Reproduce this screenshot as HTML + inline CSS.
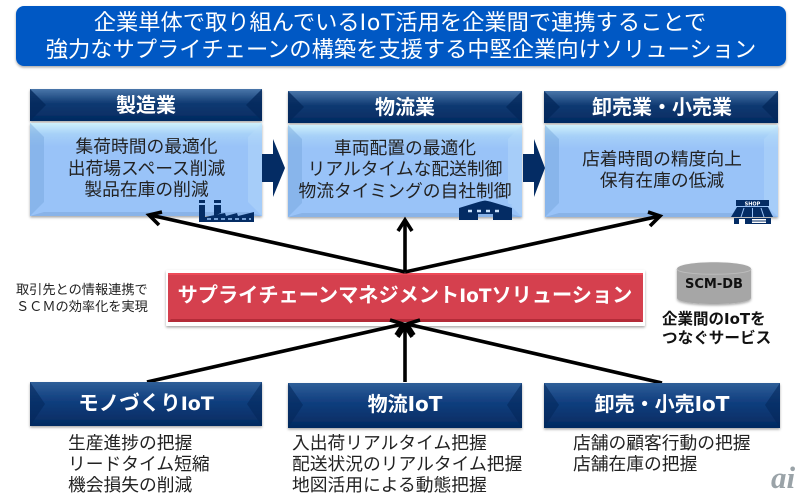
<!DOCTYPE html>
<html lang="ja"><head><meta charset="utf-8"><title>IoT SCM</title>
<style>html,body{margin:0;padding:0;background:#fff}svg{display:block}
text{font-family:"Liberation Sans","Noto Sans CJK JP",sans-serif}
.w{fill:#fff}.b{font-weight:700}.t{fill:#222;font-size:17.75px}
.i{font-family:"DejaVu Sans","Noto Sans CJK JP",sans-serif}</style></head><body>
<svg width="800" height="498" viewBox="0 0 800 498" xmlns="http://www.w3.org/2000/svg">
<defs>
<linearGradient id="h" x1="0" y1="0" x2="0" y2="1"><stop offset="0" stop-color="#4a76aa"/><stop offset=".45" stop-color="#0f3a72"/><stop offset="1" stop-color="#032a60"/></linearGradient>
<linearGradient id="hb" x1="0" y1="0" x2="0" y2="1"><stop offset="0" stop-color="#2f5f98"/><stop offset=".4" stop-color="#124080"/><stop offset="1" stop-color="#032a60"/></linearGradient>
<linearGradient id="bd" x1="0" y1="0" x2="0" y2="1"><stop offset="0" stop-color="#cdf0fb"/><stop offset=".12" stop-color="#a6d0f8"/><stop offset=".25" stop-color="#99c3f8"/><stop offset="1" stop-color="#99c3f8"/></linearGradient>
<filter id="s" x="-5%" y="-10%" width="110%" height="125%"><feDropShadow dx="0" dy="1.5" stdDeviation="1.2" flood-color="#000" flood-opacity=".35"/></filter>
</defs>

<!-- Title -->
<rect x="16" y="6" width="770" height="60" rx="8" fill="#0059c4" filter="url(#s)"/>
<text x="400" y="30" text-anchor="middle" class="w" font-size="22.25">企業単体で取り組んでいる<tspan class="i" font-size="22" letter-spacing=".8">IoT</tspan>活用を企業間で連携することで</text>
<text x="401" y="57" text-anchor="middle" class="w" font-size="22.25">強力なサプライチェーンの構築を支援する中堅企業向けソリューション</text>

<!-- Top headers -->
<g filter="url(#s)">
<rect x="30" y="89" width="232" height="32" fill="url(#h)"/>
<rect x="288" y="91" width="234" height="32" fill="url(#h)"/>
<rect x="544" y="91" width="234" height="32" fill="url(#h)"/>
</g>
<g fill="#03275a" opacity=".75">
<path d="M30 89l16 16-16 16zM262 89l-16 16 16 16z"/>
<path d="M288 91l16 16-16 16zM522 91l-16 16 16 16z"/>
<path d="M544 91l16 16-16 16zM778 91l-16 16 16 16z"/>
</g>
<text x="146" y="112" text-anchor="middle" class="w b" font-size="20">製造業</text>
<text x="405" y="114" text-anchor="middle" class="w b" font-size="20">物流業</text>
<text x="662" y="114" text-anchor="middle" class="w b" font-size="20">卸売業・小売業</text>

<!-- Top bodies -->
<g filter="url(#s)">
<rect x="30" y="123" width="232" height="93" fill="url(#bd)"/>
<rect x="288" y="125" width="234" height="92" fill="url(#bd)"/>
<rect x="545" y="125" width="233" height="92" fill="url(#bd)"/>
</g>
<g fill="#6f9fd8" opacity=".4">
<path d="M30 123l14 14v65l-14 14z"/><path d="M288 125l14 14v64l-14 14z"/><path d="M545 125l14 14v64l-14 14z"/>
</g>
<g fill="#b9dcfb" opacity=".4">
<path d="M262 123l-14 14v65l14 14z"/><path d="M522 125l-14 14v64l14 14z"/><path d="M778 125l-14 14v64l14 14z"/>
</g>
<g fill="#7fa9dd" opacity=".6">
<path d="M30 216l14-4h204l14 4z"/><path d="M288 217l14-4h206l14 4z"/><path d="M545 217l14-4h205l14 4z"/>
</g>
<g text-anchor="middle">
<text x="146.500" y="152.500" class="t">集荷時間の最適化</text>
<text x="146.500" y="174.500" class="t">出荷場スペース削減</text>
<text x="146.500" y="195.500" class="t">製品在庫の削減</text>
<text x="405" y="154" class="t">車両配置の最適化</text>
<text x="405" y="175" class="t">リアルタイムな配送制御</text>
<text x="405" y="197" class="t">物流タイミングの自社制御</text>
<text x="662" y="165" class="t">店着時間の精度向上</text>
<text x="662" y="186.500" class="t">保有在庫の低減</text>
</g>

<!-- Block arrows -->
<path d="M262 154h11v-15l12 29-12 29v-15h-11z" fill="#042c64"/>
<path d="M523 154h11v-15l11 29-11 29v-15h-11z" fill="#042c64"/>

<!-- Factory icon -->
<g fill="#042c64">
<path d="M199 200h6v3h-6zM199 205h6v17h-6zM214 200h7v3h-7zM214 205h7v8l-7 3z"/>
<path d="M205 222v-5l20-4 1 3 11-3 1 3 16-4v10z"/>
</g>
<path d="M207 219h44" stroke="#99c3f8" stroke-width="1.5" stroke-dasharray="4 3"/>
<!-- Warehouse icon -->
<path d="M459 208l26-8 27 8v12h-19v-6h-15v6h-19z" fill="#042c64"/>
<path d="M459 205l26-5 27 5" stroke="#99c3f8" stroke-width="1" fill="none"/>
<path d="M468 211h36" stroke="#c8e0fb" stroke-width="2.5" stroke-dasharray="4 5"/>
<!-- Shop icon -->
<g fill="#042c64">
<rect x="736" y="200" width="33" height="6"/>
<path d="M737 207h31l5 10h-42z"/>
<path d="M734 218h37v6h-37z"/>
</g>
<text x="752.500" y="205.500" text-anchor="middle" font-size="5" class="w b i">SHOP</text>
<path d="M744 208l-3 9M752.500 208v9M761 208l3 9" stroke="#99c3f8" stroke-width="1"/>
<rect x="739" y="219" width="6" height="5" fill="#fff"/><rect x="752" y="219" width="14" height="4" fill="#fff"/>
<path d="M752 221h14" stroke="#042c64" stroke-width="1"/>

<!-- Red box -->
<rect x="166" y="270" width="479" height="56" rx="1" fill="#fff" filter="url(#s)"/>
<rect x="168" y="273" width="475" height="49" fill="#d5404e"/>
<path d="M168 322l3-3h469l3 3z" fill="#b32b38"/>
<path d="M168 273h475v2H168z" fill="#ee4a58"/>
<text x="405" y="302" text-anchor="middle" class="w b" font-size="20.2">サプライチェーンマネジメント<tspan class="i" font-size="18.5">IoT</tspan>ソリューション</text>

<!-- Connectors -->
<g stroke="#000" stroke-width="3.6" fill="none" stroke-linejoin="miter" stroke-linecap="butt">
<path d="M405 272V220"/>
<path d="M405 272L150 215"/>
<path d="M405 272L660 216"/>
<path d="M147 382L403 324"/>
<path d="M405 382V325"/>
<path d="M662 383L407 324"/>
<path d="M162 212L149 215L159 225"/>
<path d="M398 231L405 220L412 231"/>
<path d="M648 212L660 216L650 226"/>
<path d="M390 320L403 324L396 335"/>
<path d="M398 337L405 326L412 337"/>
<path d="M420 320L407 324L414 335"/>
</g>

<!-- Left note -->
<text x="16" y="294" font-size="13.2" fill="#222">取引先との情報連携で</text>
<text x="16" y="311" font-size="13.2" fill="#222">ＳＣＭの効率化を実現</text>

<!-- DB -->
<path d="M677 269c0-9 74-9 74 0v29c0 8-74 8-74 0z" fill="#a6a6a6" filter="url(#s)"/>
<path d="M677 269c0 7 74 7 74 0" fill="none" stroke="#bdbdbd" stroke-width="1"/>
<text x="714" y="288" text-anchor="middle" class="b i" font-size="13" fill="#111">SCM-DB</text>
<text x="662" y="324" class="b" font-size="15.5" fill="#111">企業間の<tspan class="i" font-size="15">IoT</tspan>を</text>
<text x="662" y="343" class="b" font-size="15.6" fill="#111">つなぐサービス</text>

<!-- Bottom boxes -->
<g filter="url(#s)">
<rect x="30" y="382" width="232" height="44" fill="url(#hb)"/>
<rect x="288" y="383" width="234" height="45" fill="url(#hb)"/>
<rect x="544" y="383" width="236" height="45" fill="url(#hb)"/>
</g>
<g fill="#03275a" opacity=".55">
<path d="M30 382l15 22-15 22zM262 382l-15 22 15 22z"/>
<path d="M288 383l15 22-15 23zM522 383l-15 22 15 23z"/>
<path d="M544 383l15 22-15 23zM780 383l-15 22 15 23z"/>
</g>
<text x="146" y="410" text-anchor="middle" class="w b" font-size="20.5">モノづくり<tspan class="i" font-size="19">IoT</tspan></text>
<text x="405" y="411" text-anchor="middle" class="w b" font-size="20">物流<tspan class="i" font-size="20">IoT</tspan></text>
<text x="662" y="411" text-anchor="middle" class="w b" font-size="20">卸売・小売<tspan class="i" font-size="20">IoT</tspan></text>

<!-- Lists -->
<text x="68" y="449" class="t">生産進捗の把握</text>
<text x="68" y="470" class="t">リードタイム短縮</text>
<text x="68" y="491" class="t">機会損失の削減</text>
<text x="292" y="449" class="t">入出荷リアルタイム把握</text>
<text x="292" y="470" class="t">配送状況のリアルタイム把握</text>
<text x="292" y="491" class="t">地図活用による動態把握</text>
<text x="573" y="449" class="t">店舗の顧客行動の把握</text>
<text x="573" y="470" class="t">店舗在庫の把握</text>

<!-- ai mark -->
<text x="771" y="488" font-size="31" font-style="italic" font-weight="700" fill="#9aa3a8" style="font-family:'Liberation Serif',serif">ai</text>
</svg>
</body></html>
